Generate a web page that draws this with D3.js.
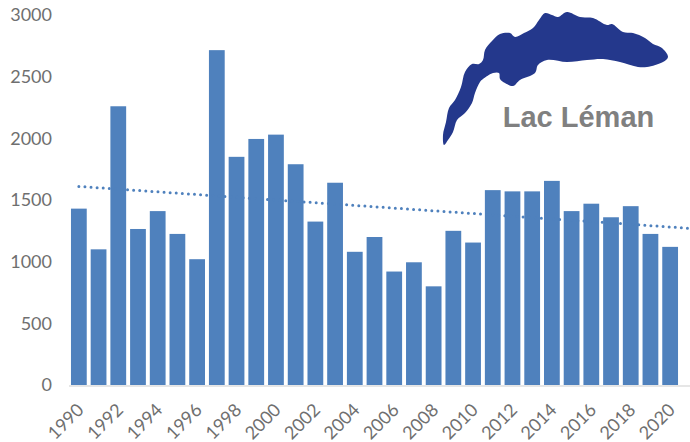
<!DOCTYPE html>
<html>
<head>
<meta charset="utf-8">
<script src="https://cdn.jsdelivr.net/npm/d3@7"></script>
<style>
  html, body { margin: 0; padding: 0; background: #fff; }
  svg { display: block; }
</style>
</head>
<body>
<div id="chart"></div>
<script>
const years = d3.range(1990, 2021);
const values = [1430, 1100, 2260, 1265, 1410, 1225, 1020, 2715, 1850, 1995, 2030,
  1790, 1325, 1640, 1080, 1200, 920, 995, 800, 1250, 1155,
  1580, 1570, 1570, 1655, 1410, 1470, 1360, 1450, 1225, 1120];
const yTicks = [0, 500, 1000, 1500, 2000, 2500, 3000];
const xLabels = years.filter(y => y % 2 === 0);
const trendYears = [1990, 2021];
const trendValues = [1610, 1270];
const title = 'Lac Léman';

// lake outline
const lakeOutline = [
  [444,145],[443,135],[446,122],[449,108],[455,100],[461,87],[465,72],[472,64],[479,64],[483,60],
  [485,50],[492,41],[500,34],[510,33],[515,37],[524,33],[533,28],[539,20],[545,13],[552,15],[558,17],[567,12],
  [580,17],[593,18],[607,25],[612,24],[623,32],[633,33],[645,38],[653,44],[662,48],[668,57],
  [663,62],[647,67],[638,67],[620,62],[603,59],[587,60],[567,62],[547,60],[538,65],[535,73],
  [520,80],[513,86],[505,83],[500,79],[499,73],[493,73],[483,79],[480,82],[475,93],[472,103],
  [465,113],[457,120],[453,132],[448,140]
];

const width = 690, height = 442;
const svg = d3.select('#chart').append('svg').attr('width', width).attr('height', height);

const x = d3.scaleBand().domain(years).range([69, 680]).paddingInner(0.2).paddingOuter(0.1);
const y = d3.scaleLinear().domain([0, 3000]).range([385, 15]);
const xc = d => x(d) + x.bandwidth() / 2;
const xYear = d3.scaleLinear().domain([1990, 2020]).range([xc(1990), xc(2020)]);

// Bars
svg.selectAll('.bar')
  .data(years)
  .join('rect')
  .attr('class', 'bar')
  .attr('x', d => x(d))
  .attr('width', x.bandwidth())
  .attr('y', (d, i) => y(values[i]))
  .attr('height', (d, i) => y(0) - y(values[i]))
  .attr('fill', '#4f81bd');

// Baseline
svg.append('line')
  .attr('x1', 69).attr('x2', 690)
  .attr('y1', y(0) + 1).attr('y2', y(0) + 1)
  .attr('stroke', '#dedede').attr('stroke-width', 1.5);

// Trend, round dots, same blue as the bars so it disappears over them
const trend = d3.line().x(d => xYear(d[0])).y(d => y(d[1]));
svg.append('path')
  .attr('d', trend(trendYears.map((t, i) => [t, trendValues[i]])))
  .attr('fill', 'none')
  .attr('stroke', '#4f81bd')
  .attr('stroke-width', 3)
  .attr('stroke-linecap', 'round')
  .attr('stroke-dasharray', '0,6.1');

// Y axis
const yAxis = svg.append('g')
  .attr('transform', 'translate(52,0)')
  .call(d3.axisLeft(y).tickValues(yTicks).tickSize(0).tickPadding(0).tickFormat(d3.format('d')));
yAxis.select('.domain').remove();
yAxis.selectAll('text')
  .attr('fill', '#6f6f6f')
  .attr('font-family', 'Lato, "Open Sans", sans-serif')
  .attr('font-size', '18px');

// X axis
const xAxis = svg.append('g')
  .attr('transform', `translate(0,${y(0)})`)
  .call(d3.axisBottom(x).tickValues(xLabels).tickSize(0).tickFormat(d3.format('d')));
xAxis.select('.domain').remove();
xAxis.selectAll('text')
  .attr('fill', '#6f6f6f')
  .attr('font-family', 'Lato, "Open Sans", sans-serif')
  .attr('font-size', '18px')
  .attr('text-anchor', 'end')
  .attr('dy', 0)
  .attr('y', 0)
  .attr('transform', 'translate(6,26) rotate(-45)');

// Lake shape
svg.append('path')
  .attr('d', d3.line().curve(d3.curveCatmullRomClosed)(lakeOutline))
  .attr('fill', '#24388c');

svg.append('text')
  .attr('x', 578.5).attr('y', 127)
  .attr('text-anchor', 'middle')
  .attr('fill', '#808080')
  .attr('font-family', '"Liberation Sans", Arial, sans-serif')
  .attr('font-weight', 'bold')
  .attr('font-size', '29px')
  .text(title);
</script>
</body>
</html>
